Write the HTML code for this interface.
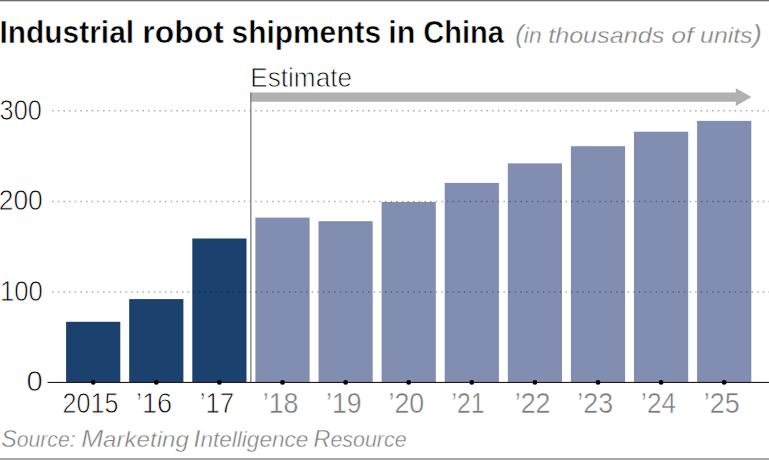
<!DOCTYPE html>
<html><head><meta charset="utf-8">
<style>
html,body{margin:0;padding:0;background:#fff;}
body{width:769px;height:460px;overflow:hidden;}
svg{display:block;}
text{font-family:"Liberation Sans",sans-serif;}
.thin{stroke:#fff;stroke-width:0.8px;}
#gtitle text{stroke-width:0.5px;}
#gsrc text{stroke-width:0.4px;}
#gsub text{stroke-width:0.3px;}
.gl text{stroke-width:0.45px;}
</style></head>
<body>
<svg width="769" height="460" viewBox="0 0 769 460">
<rect x="0" y="0" width="769" height="1.3" fill="#6e6e6e"/>
<rect x="0" y="458" width="769" height="2" fill="#a8a8a8"/>
<g id="gtitle" font-weight="bold" fill="#000">
<text id="t1" x="-0.47" y="42.50" font-size="31" textLength="134.54" lengthAdjust="spacingAndGlyphs" class="thin" >Industrial</text>
<text id="t2" x="142.32" y="42.50" font-size="31" textLength="81.50" lengthAdjust="spacingAndGlyphs" class="thin" >robot</text>
<text id="t3" x="231.56" y="42.50" font-size="31" textLength="149.48" lengthAdjust="spacingAndGlyphs" class="thin" >shipments</text>
<text id="t4" x="388.29" y="42.50" font-size="31" textLength="27.15" lengthAdjust="spacingAndGlyphs" class="thin" >in</text>
<text id="t5" x="423.34" y="42.50" font-size="31" textLength="80.69" lengthAdjust="spacingAndGlyphs" class="thin" >China</text>
</g>
<g id="gsub" font-style="italic" fill="#858585">
<text id="s1" x="515.21" y="42.60" font-size="22" textLength="26.38" lengthAdjust="spacingAndGlyphs" class="thin" ><tspan font-size="25">(</tspan>in</text>
<text id="s2" x="548.16" y="42.60" font-size="22" textLength="116.06" lengthAdjust="spacingAndGlyphs" class="thin" >thousands</text>
<text id="s3" x="671.25" y="42.60" font-size="22" textLength="22.25" lengthAdjust="spacingAndGlyphs" class="thin" >of</text>
<text id="s4" x="700.11" y="42.60" font-size="22" textLength="61.82" lengthAdjust="spacingAndGlyphs" class="thin" >units<tspan font-size="25">)</tspan></text>
</g>
<text id="estimate" x="250.30" y="86.50" font-size="28.2" textLength="101.68" lengthAdjust="spacingAndGlyphs" class="thin" fill="#000">Estimate</text>
<g fill="#1b416f">
<rect x="66.1" y="321.8" width="54.2" height="60.6"/>
<rect x="129.2" y="299.1" width="54.2" height="83.3"/>
<rect x="192.3" y="238.5" width="54.2" height="143.9"/>
</g>
<g fill="#818eb1">
<rect x="255.4" y="217.6" width="54.2" height="164.8"/>
<rect x="318.5" y="221.2" width="54.2" height="161.2"/>
<rect x="381.6" y="201.9" width="54.2" height="180.5"/>
<rect x="444.7" y="182.9" width="54.2" height="199.5"/>
<rect x="507.8" y="163.4" width="54.2" height="219.0"/>
<rect x="570.9" y="146.2" width="54.2" height="236.2"/>
<rect x="634.0" y="131.7" width="54.2" height="250.8"/>
<rect x="697.1" y="120.9" width="54.2" height="261.5"/>
</g>
<g stroke="rgba(0,0,0,0.32)" stroke-width="1.5" stroke-dasharray="1.5 4.14">
<line x1="52.18" y1="110.85" x2="769" y2="110.85"/>
<line x1="52.18" y1="201.4" x2="769" y2="201.4"/>
<line x1="52.18" y1="291.92" x2="769" y2="291.92"/>
</g>
<path d="M250.3 92.5 H735.8 V88.3 L751.5 97.1 L735.8 105.9 V101.7 H250.3 Z" fill="#b0b0b0"/>
<rect x="250.2" y="92.5" width="1.3" height="289.5" fill="#7c7c7c"/>
<rect x="47.5" y="381.9" width="721.5" height="1.1" fill="#1a1a1a"/>
<g fill="#000">
<circle cx="93.2" cy="382.45" r="2.4"/>
<circle cx="156.3" cy="382.45" r="2.4"/>
<circle cx="219.4" cy="382.45" r="2.4"/>
<circle cx="282.5" cy="382.45" r="2.4"/>
<circle cx="345.6" cy="382.45" r="2.4"/>
<circle cx="408.7" cy="382.45" r="2.4"/>
<circle cx="471.8" cy="382.45" r="2.4"/>
<circle cx="534.9" cy="382.45" r="2.4"/>
<circle cx="598.0" cy="382.45" r="2.4"/>
<circle cx="661.1" cy="382.45" r="2.4"/>
<circle cx="724.2" cy="382.45" r="2.4"/>
</g>
<g fill="#000">
<text id="y300" x="-0.40" y="119.80" font-size="30" textLength="42.09" lengthAdjust="spacingAndGlyphs" class="thin" >300</text>
<text id="y200" x="-1.26" y="210.30" font-size="30" textLength="44.05" lengthAdjust="spacingAndGlyphs" class="thin" >200</text>
<text id="y100" x="-0.09" y="300.80" font-size="30" textLength="42.90" lengthAdjust="spacingAndGlyphs" class="thin" >100</text>
<text id="y0" x="26.39" y="391.20" font-size="30" textLength="16.21" lengthAdjust="spacingAndGlyphs" class="thin" >0</text>
</g>
<g fill="#000">
<text id="x2015" x="62.61" y="412.60" font-size="29" textLength="55.76" lengthAdjust="spacingAndGlyphs" class="thin" >2015</text>
<text id="x16" x="135.88" y="412.60" font-size="29" textLength="36.19" lengthAdjust="spacingAndGlyphs" class="thin" >’16</text>
<text id="x17" x="199.68" y="412.60" font-size="29" textLength="34.41" lengthAdjust="spacingAndGlyphs" class="thin" >’17</text>
</g>
<g class="gl" fill="#7b7b7b">
<text id="x18" x="262.75" y="412.60" font-size="29" textLength="35.73" lengthAdjust="spacingAndGlyphs" class="thin" >’18</text>
<text id="x19" x="326.01" y="412.60" font-size="29" textLength="35.58" lengthAdjust="spacingAndGlyphs" class="thin" >’19</text>
<text id="x20" x="388.50" y="412.60" font-size="29" textLength="35.61" lengthAdjust="spacingAndGlyphs" class="thin" >’20</text>
<text id="x21" x="451.62" y="412.60" font-size="29" textLength="32.86" lengthAdjust="spacingAndGlyphs" class="thin" >’21</text>
<text id="x22" x="514.74" y="412.60" font-size="29" textLength="35.80" lengthAdjust="spacingAndGlyphs" class="thin" >’22</text>
<text id="x23" x="577.37" y="412.60" font-size="29" textLength="35.72" lengthAdjust="spacingAndGlyphs" class="thin" >’23</text>
<text id="x24" x="641.12" y="412.60" font-size="29" textLength="34.95" lengthAdjust="spacingAndGlyphs" class="thin" >’24</text>
<text id="x25" x="703.87" y="412.60" font-size="29" textLength="35.78" lengthAdjust="spacingAndGlyphs" class="thin" >’25</text>
</g>
<g id="gsrc" font-style="italic" fill="#808080">
<text id="c1" x="1.17" y="446.60" font-size="22" textLength="74.48" lengthAdjust="spacingAndGlyphs" class="thin" ><tspan font-size="24">S</tspan>ource:</text>
<text id="c2" x="81.17" y="446.60" font-size="22" textLength="107.67" lengthAdjust="spacingAndGlyphs" class="thin" ><tspan font-size="24">M</tspan>arketing</text>
<text id="c3" x="193.56" y="446.60" font-size="22" textLength="114.88" lengthAdjust="spacingAndGlyphs" class="thin" ><tspan font-size="24">I</tspan>ntelligence</text>
<text id="c4" x="313.56" y="446.60" font-size="22" textLength="93.06" lengthAdjust="spacingAndGlyphs" class="thin" ><tspan font-size="24">R</tspan>esource</text>
</g>
</svg>
</body></html>
